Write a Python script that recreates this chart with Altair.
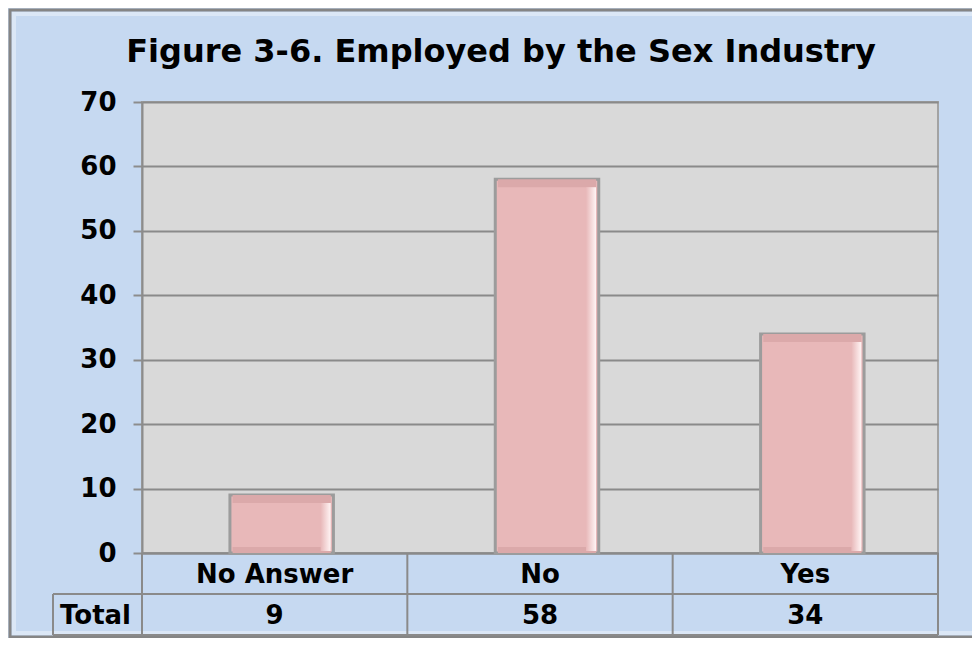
import altair as alt
import pandas as pd

title_text = "Figure 3-6. Employed by the Sex Industry"
categories = ["No Answer", "No", "Yes"]
values = [9, 58, 34]
y_ticks = [0, 10, 20, 30, 40, 50, 60, 70]
row_label = "Total"

W, H = 796, 451
ROW = 41
FONT = "DejaVu Sans"
GRID = "#8a8a8a"
BG = "#C6D9F1"
BX = 7  # bar shift within band

df = pd.DataFrame({"cat": categories, "value": values})
one = pd.DataFrame({"t": [title_text], "r": [row_label]})

xenc = alt.X("cat:N", sort=categories,
             scale=alt.Scale(paddingInner=0, paddingOuter=0),
             axis=alt.Axis(labels=False, ticks=False, title=None, grid=False,
                           domainColor=GRID, domainWidth=2))
yenc = alt.Y("value:Q",
             scale=alt.Scale(domain=[0, 70], nice=False),
             axis=alt.Axis(values=y_ticks, title=None, grid=True, gridColor=GRID,
                           gridWidth=2, gridOpacity=1, domainColor="#8c8c8c", domainWidth=2,
                           tickColor="#8c8c8c", tickSize=9, tickWidth=2,
                           labelFont=FONT, labelFontWeight="bold", labelFontSize=26,
                           labelColor="#000000", labelPadding=17))

base = alt.Chart(df)

# outer frame
frame = alt.Chart(one).mark_rect(fillOpacity=0, stroke="#858585", strokeWidth=3).encode(
    x=alt.value(-132), x2=alt.value(W + 80), y=alt.value(-92), y2=alt.value(H + 84))
frame_in = alt.Chart(one).mark_rect(fillOpacity=0, stroke="#dbe7f6", strokeWidth=4).encode(
    x=alt.value(-128), x2=alt.value(W + 80), y=alt.value(-88), y2=alt.value(H + 80))

bars = base.mark_bar(fill="#E8B8B9", stroke="#9c9c9c", strokeWidth=3, xOffset=BX,
                     width=alt.RelativeBandSize(0.39)).encode(x=xenc, y=yenc)
top_strip = base.mark_bar(fill="#DBA9AA", width=alt.RelativeBandSize(0.37), xOffset=BX,
                          y2Offset=8).encode(x=xenc, y=yenc, y2=alt.Y2("value:Q"))
bottom_strip = base.mark_bar(fill="#DBA9AA", width=alt.RelativeBandSize(0.37), xOffset=BX,
                             yOffset=-6).encode(x=xenc, y=alt.Y("zero:Q"), y2=alt.Y2("zero:Q")).transform_calculate(zero="0")
highlight = base.mark_bar(width=10, xOffset=BX + 44, y2Offset=-2, yOffset=8,
                          fill=alt.Gradient(gradient="linear", x1=0, x2=1, y1=0, y2=0,
                                            stops=[alt.GradientStop(color="#E8B8B9", offset=0),
                                                   alt.GradientStop(color="#FFF4F4", offset=1)])
                          ).encode(x=xenc, y=yenc, y2=alt.Y2("zero:Q")).transform_calculate(zero="0")

# table lines
vlines = base.mark_rule(color=GRID, strokeWidth=2).encode(
    x=alt.X("cat:N", sort=categories, bandPosition=0), y=alt.value(H), y2=alt.value(H + 2 * ROW))
vright = alt.Chart(one).mark_rule(color=GRID, strokeWidth=2).encode(
    x=alt.value(W), y=alt.value(H), y2=alt.value(H + 2 * ROW))
vleft = alt.Chart(one).mark_rule(color=GRID, strokeWidth=2).encode(
    x=alt.value(-89), y=alt.value(H + ROW), y2=alt.value(H + 2 * ROW))
h1 = alt.Chart(one).mark_rule(color=GRID, strokeWidth=2).encode(
    x=alt.value(-89), x2=alt.value(W), y=alt.value(H + ROW))
h2 = alt.Chart(one).mark_rule(color=GRID, strokeWidth=2).encode(
    x=alt.value(-89), x2=alt.value(W), y=alt.value(H + 2 * ROW))

cat_text = base.mark_text(font=FONT, fontWeight="bold", fontSize=26, baseline="middle",
                          color="#000000").encode(
    x=alt.X("cat:N", sort=categories), y=alt.value(H + ROW / 2 + 1), text="cat:N")
val_text = base.mark_text(font=FONT, fontWeight="bold", fontSize=26, baseline="middle",
                          color="#000000").encode(
    x=alt.X("cat:N", sort=categories), y=alt.value(H + 1.5 * ROW + 1), text="value:Q")
row_text = alt.Chart(one).mark_text(font=FONT, fontWeight="bold", fontSize=26, baseline="middle",
                                    align="left", color="#000000").encode(
    x=alt.value(-82), y=alt.value(H + 1.5 * ROW + 1), text="r:N")
title = alt.Chart(one).mark_text(font=FONT, fontWeight="bold", fontSize=32, baseline="alphabetic",
                                 align="center", color="#000000").encode(
    x=alt.value(359), y=alt.value(-40), text="t:N")

chart = alt.layer(
    frame, frame_in, bars, top_strip, bottom_strip, highlight,
    vlines, vright, vleft, h1, h2, cat_text, val_text, row_text, title
).resolve_scale(x="shared").properties(
    width=W, height=H,
    autosize=alt.AutoSizeParams(type="none"),
    padding={"left": 134, "top": 94, "right": 34, "bottom": 85},
    background=BG,
).configure_view(fill="#D9D9D9", stroke="#a3a3a3", strokeWidth=2)

chart.save("out.html", embed_options={"renderer": "svg", "actions": False})
